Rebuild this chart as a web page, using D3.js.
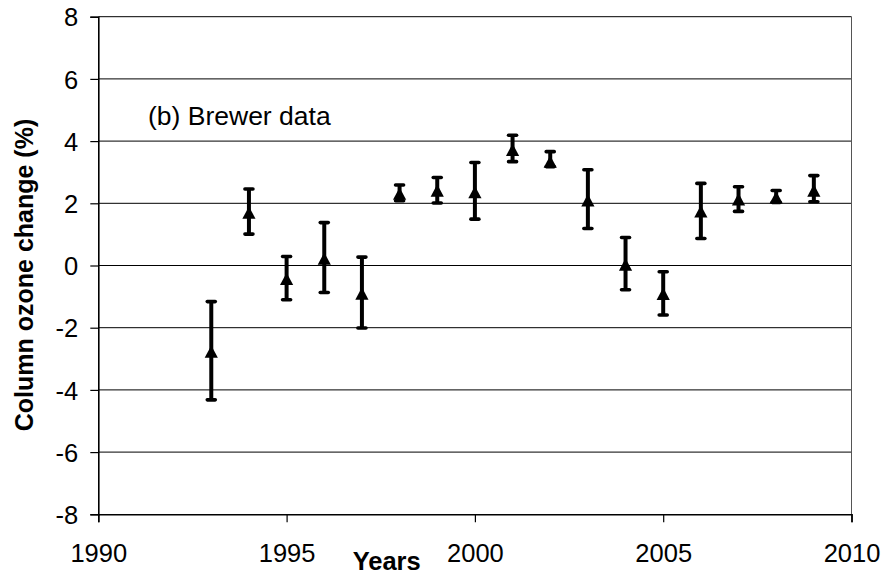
<!DOCTYPE html>
<html>
<head>
<meta charset="utf-8">
<script src="https://cdn.jsdelivr.net/npm/d3@7/dist/d3.min.js"></script>
<style>
  html, body { margin: 0; padding: 0; background: #fff; }
  svg { display: block; }
  text { font-family: "Liberation Sans", Arial, Helvetica, sans-serif; fill: #000; }
</style>
</head>
<body>
<svg id="chart" width="884" height="575"></svg>
<script>
// Yearly column ozone change (%) from Brewer measurements, with error ranges
const years  = [1993, 1994, 1995, 1996, 1997, 1998, 1999, 2000, 2001, 2002, 2003, 2004, 2005, 2006, 2007, 2008, 2009];
const change = [-2.77, 1.70, -0.43, 0.22, -0.90, 2.31, 2.41, 2.36, 3.72, 3.34, 2.10, 0.03, -0.91, 1.74, 2.13, 2.19, 2.41];
const upper  = [-1.16, 2.46, 0.29, 1.38, 0.27, 2.59, 2.83, 3.31, 4.19, 3.66, 3.08, 0.90, -0.20, 2.64, 2.53, 2.41, 2.89];
const lower  = [-4.32, 1.01, -1.10, -0.87, -2.01, 2.08, 2.01, 1.49, 3.34, 3.18, 1.19, -0.78, -1.59, 0.87, 1.74, 2.03, 2.05];

const xTicks = [1990, 1995, 2000, 2005, 2010];
const yTicks = [-8, -6, -4, -2, 0, 2, 4, 6, 8];

(function draw() {
  const svg = d3.select("#chart");

  const plotLeft = 98.3, plotRight = 851.5, plotTop = 16.7, plotBottom = 514.3;
  const x = d3.scaleLinear().domain([1990, 2010]).range([plotLeft, plotRight]);
  const y = d3.scaleLinear().domain([-8, 8]).range([plotBottom, plotTop]);

  // horizontal grid lines
  svg.append("g")
    .selectAll("line")
    .data(yTicks.filter(v => v !== -8))
    .join("line")
    .attr("x1", plotLeft).attr("x2", plotRight)
    .attr("y1", d => y(d)).attr("y2", d => y(d))
    .attr("stroke", "#000").attr("stroke-width", 1);

  // right border of plot area
  svg.append("line")
    .attr("x1", plotRight).attr("x2", plotRight)
    .attr("y1", plotTop).attr("y2", plotBottom)
    .attr("stroke", "#555").attr("stroke-width", 1);

  // y axis
  const yAxis = svg.append("g")
    .attr("transform", `translate(${plotLeft},0)`)
    .call(d3.axisLeft(y).tickValues(yTicks).tickSize(8).tickPadding(12).tickFormat(d3.format("d")));
  yAxis.select(".domain").attr("stroke", "#000").attr("stroke-width", 1.6);
  yAxis.selectAll(".tick line").attr("stroke", "#000").attr("stroke-width", 1.2);
  yAxis.selectAll(".tick text")
    .style("font-size", "25.5px")
    .attr("dy", "0.36em")
    .text(d => d < 0 ? "-" + Math.abs(d) : d);

  // x axis
  const xAxis = svg.append("g")
    .attr("transform", `translate(0,${plotBottom})`)
    .call(d3.axisBottom(x).tickValues(xTicks).tickSize(8).tickFormat(d3.format("d")));
  xAxis.select(".domain").attr("stroke", "#000").attr("stroke-width", 1.6);
  xAxis.selectAll(".tick line").attr("stroke", "#000").attr("stroke-width", 1.2);
  xAxis.selectAll(".tick text")
    .style("font-size", "25.5px")
    .attr("dy", null)
    .attr("y", 47.7);

  // error bars
  const bars = svg.append("g").selectAll("g")
    .data(years.map((yr, i) => ({ yr, v: change[i], hi: upper[i], lo: lower[i] })))
    .join("g");

  bars.append("line")
    .attr("x1", d => x(d.yr)).attr("x2", d => x(d.yr))
    .attr("y1", d => y(d.hi)).attr("y2", d => y(d.lo))
    .attr("stroke", "#000").attr("stroke-width", 4);

  bars.selectAll("line.cap")
    .data(d => [{ yr: d.yr, e: d.hi }, { yr: d.yr, e: d.lo }])
    .join("line")
    .attr("class", "cap")
    .attr("x1", d => x(d.yr) - 4).attr("x2", d => x(d.yr) + 4)
    .attr("y1", d => y(d.e)).attr("y2", d => y(d.e))
    .attr("stroke", "#000").attr("stroke-width", 3.6).attr("stroke-linecap", "round");

  // triangle markers centred on each value
  const tri = "M0,-6.2 L6.6,6.2 L-6.6,6.2 Z";
  bars.append("path")
    .attr("d", tri)
    .attr("transform", d => `translate(${x(d.yr)},${y(d.v)})`)
    .attr("fill", "#000");

  // annotation
  svg.append("text")
    .attr("x", 148).attr("y", 125)
    .style("font-size", "26.5px")
    .text("(b) Brewer data");

  // axis titles
  svg.append("text")
    .attr("x", 386.7).attr("y", 570)
    .attr("text-anchor", "middle")
    .style("font-size", "25.5px").style("font-weight", "bold")
    .text("Years");

  svg.append("text")
    .attr("transform", "translate(32.5,275) rotate(-90)")
    .attr("text-anchor", "middle")
    .style("font-size", "25px").style("font-weight", "bold")
    .text("Column ozone change (%)");
})();
</script>
</body>
</html>
